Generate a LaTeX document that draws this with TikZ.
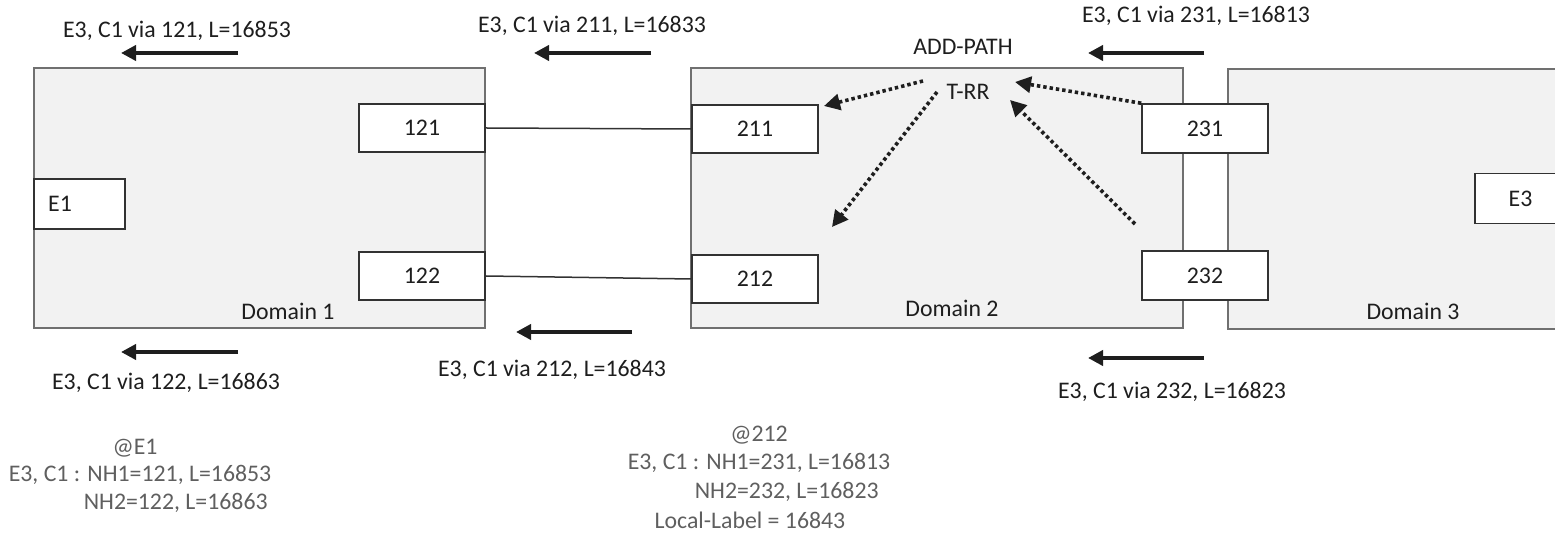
\documentclass[tikz,border=0pt]{standalone}
\usepackage{fontspec}
\setmainfont{Carlito}
\usetikzlibrary{arrows.meta}
\definecolor{domfill}{RGB}{242,242,242}
\definecolor{domline}{RGB}{112,112,112}
\definecolor{boxline}{RGB}{50,50,50}
\definecolor{ink}{RGB}{30,30,30}
\definecolor{note}{RGB}{95,95,95}
\begin{document}
\begin{tikzpicture}[x=0.5pt,y=-0.5pt,
  every node/.style={font=\fontsize{11.9pt}{14pt}\selectfont, text=ink},
  domain/.style={draw=domline, fill=domfill, line width=1pt, minimum width=#1, minimum height=130pt, inner sep=0pt},
  rbox/.style={draw=boxline, fill=white, line width=0.75pt, minimum width=63pt, minimum height=24pt, inner sep=0pt},
  ebox/.style={draw=boxline, fill=white, line width=0.75pt, minimum width=45.5pt, minimum height=25pt, inner sep=0pt},
  txt/.style={inner sep=0pt},
  gtxt/.style={inner sep=0pt, text=note},
  link/.style={draw=boxline, line width=0.75pt},
  flow/.style={draw=ink, line width=2pt, -{Triangle[length=7.5pt,width=7.5pt]}},
  adv/.style={draw=ink, line width=1.8pt, dash pattern=on 1.7pt off 1.5pt, -{Triangle[length=8pt,width=8pt]}}
]
\clip (0,0) rectangle (1555,533);
\useasboundingbox (0,0) rectangle (1555,533);

% domains
\node[domain=225.5pt] (d1) at (259.5,198) {};
\node[domain=246pt] (d2) at (937,198) {};
\node[domain=186pt] (d3) at (1414,199) {};
\node[txt] (d1l) at (288,311) {Domain 1};
\node[txt] (d2l) at (952,308) {Domain 2};
\node[txt] (d3l) at (1413,311) {Domain 3};

% border routers and end points
\node[rbox] (n121) at (422,128) {121};
\node[rbox] (n122) at (422,276) {122};
\node[rbox] (n211) at (755,129) {211};
\node[rbox] (n212) at (755,279) {212};
\node[rbox, minimum height=24.5pt] (n231) at (1205,128.5) {231};
\node[rbox, minimum height=24.5pt] (n232) at (1205,275.5) {232};
\node[ebox] (e1) at (79.5,204) {};
\node[txt] (e1l) at (60,204) {E1};
\node[ebox] (e3) at (1520.5,198.5) {E3};

% inter-domain links
\draw[link] (n121.east) -- (n211.west);
\draw[link] (n122.east) -- (n212.west);

% route reflector and add-path sessions
\node[txt] (trr) at (968,92) {T-RR};
\node[txt] (addpath) at (963,47) {ADD-PATH};
\coordinate (r1s) at (923,81);
\coordinate (r1e) at (824,106);
\coordinate (r2s) at (937,92);
\coordinate (r2e) at (832,227);
\coordinate (r3e) at (1015,82);
\coordinate (r4s) at (1135,224);
\coordinate (r4e) at (1010,100);
\draw[adv] (r1s) -- (r1e);
\draw[adv] (r2s) -- (r2e);
\draw[adv] (n231.north west) -- (r3e);
\draw[adv] (r4s) -- (r4e);

% advertisement arrows with their labels
\coordinate (a1s) at (238,53);  \coordinate (a1e) at (121,53);
\coordinate (a2s) at (651,53);  \coordinate (a2e) at (534,53);
\coordinate (a3s) at (1204,53); \coordinate (a3e) at (1088,53);
\coordinate (a4s) at (238,352); \coordinate (a4e) at (121,352);
\coordinate (a5s) at (632,332); \coordinate (a5e) at (516,332);
\coordinate (a6s) at (1204,358); \coordinate (a6e) at (1088,358);
\draw[flow] (a1s) -- (a1e);
\draw[flow] (a2s) -- (a2e);
\draw[flow] (a3s) -- (a3e);
\draw[flow] (a4s) -- (a4e);
\draw[flow] (a5s) -- (a5e);
\draw[flow] (a6s) -- (a6e);
\node[txt] (l1) at (177,31) {E3, C1 via 121, L=16853};
\node[txt] (l2) at (592,26) {E3, C1 via 211, L=16833};
\node[txt] (l3) at (1196,16) {E3, C1 via 231, L=16813};
\node[txt] (l4) at (166,383) {E3, C1 via 122, L=16863};
\node[txt] (l5) at (552,370) {E3, C1 via 212, L=16843};
\node[txt] (l6) at (1172,392) {E3, C1 via 232, L=16823};

% forwarding state at E1
\node[gtxt] (s1a) at (135,448) {@E1};
\node[gtxt] (s1b) at (140,475) {E3, C1 : NH1=121, L=16853};
\node[gtxt, anchor=east] (s1c) at (268,503) {NH2=122, L=16863};

% forwarding state at 212
\node[gtxt] (s2a) at (759,435) {@212};
\node[gtxt] (s2b) at (759,463) {E3, C1 : NH1=231, L=16813};
\node[gtxt, anchor=east] (s2c) at (879,492) {NH2=232, L=16823};
\node[gtxt] (s2d) at (750,520) {Local-Label = 16843};
\end{tikzpicture}
\end{document}
